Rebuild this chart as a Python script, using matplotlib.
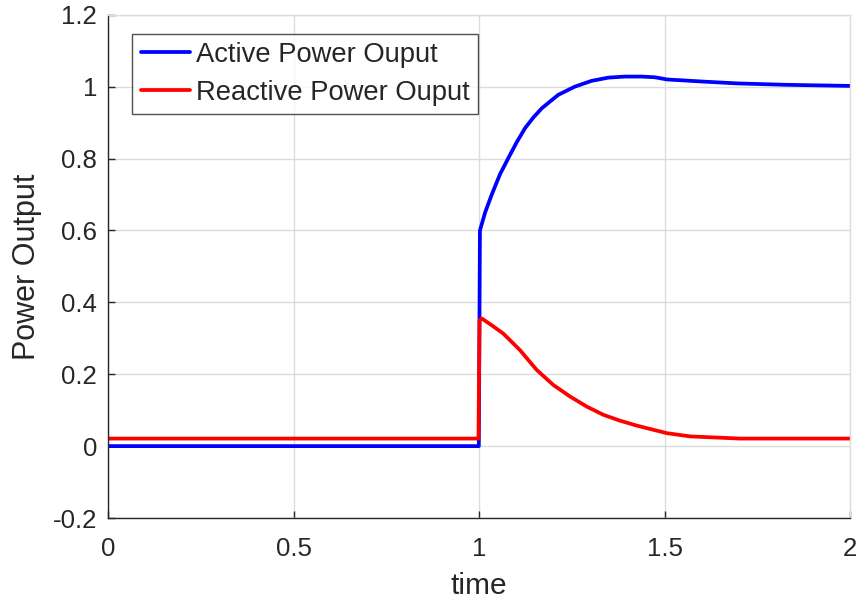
import matplotlib
matplotlib.use("Agg")
import matplotlib.pyplot as plt

t_active = [0, 0.999, 1.002, 1.016, 1.034, 1.056, 1.079, 1.101, 1.124, 1.146, 1.169, 1.213, 1.258,
            1.303, 1.348, 1.393, 1.438, 1.474, 1.506, 1.604, 1.695, 1.829, 2.0]
p_active = [0, 0, 0.600, 0.650, 0.700, 0.756, 0.802, 0.845, 0.885, 0.914, 0.940, 0.977, 1.000,
            1.016, 1.025, 1.028, 1.028, 1.026, 1.020, 1.014, 1.009, 1.005, 1.002]

t_reactive = [0, 0.998, 1.001, 1.007, 1.034, 1.065, 1.110, 1.155, 1.200, 1.245, 1.290, 1.335,
              1.379, 1.425, 1.506, 1.569, 1.703, 2.0]
p_reactive = [0.021, 0.021, 0.35, 0.355, 0.336, 0.313, 0.267, 0.212, 0.170, 0.138, 0.110, 0.087,
              0.071, 0.057, 0.036, 0.027, 0.021, 0.021]

x_ticks = [0, 0.5, 1, 1.5, 2]
x_tick_labels = ["0", "0.5", "1", "1.5", "2"]
y_ticks = [-0.2, 0, 0.2, 0.4, 0.6, 0.8, 1, 1.2]
y_tick_labels = ["-0.2", "0", "0.2", "0.4", "0.6", "0.8", "1", "1.2"]

plt.rcParams['font.family'] = ['Liberation Sans', 'DejaVu Sans']

fig = plt.figure(figsize=(8.6, 6.06), dpi=100)
ax = fig.add_axes([0.126, 0.1452, 0.8624, 0.8305])

ax.plot(t_active, p_active, color=(0, 0, 1), lw=2.7, label="Active Power Ouput",
        solid_joinstyle='round', solid_capstyle='round')
ax.plot(t_reactive, p_reactive, color=(1, 0, 0), lw=2.7, label="Reactive Power Ouput",
        solid_joinstyle='round', solid_capstyle='round')

ax.set_xlim(0, 2)
ax.set_ylim(-0.2, 1.2)
ax.set_xticks(x_ticks)
ax.set_xticklabels(x_tick_labels)
ax.set_yticks(y_ticks)
ax.set_yticklabels(y_tick_labels)

ax.grid(True, color='#dcdcdc', lw=1.0)
ax.set_axisbelow(True)
for s in ['left', 'bottom']:
    ax.spines[s].set_color('#262626')
    ax.spines[s].set_linewidth(1.0)
for s in ['top', 'right']:
    ax.spines[s].set_color('#dcdcdc')
    ax.spines[s].set_linewidth(1.0)

ax.tick_params(axis='both', direction='in', length=5, width=1, colors='#262626',
               labelsize=18.6, labelcolor='#262626', pad=8)
ax.tick_params(axis='x', pad=13.5)
ax.tick_params(top=False, right=False)

ax.set_xlabel("time", fontsize=21.5, color='#262626', labelpad=8)
ax.set_ylabel("Power Output", fontsize=22, color='#262626', labelpad=8)

leg = ax.legend(loc='upper left', bbox_to_anchor=(0.0325, 0.962), fontsize=19.7,
                frameon=True, fancybox=False, handlelength=1.8, handletextpad=0.22,
                borderpad=0.3, labelspacing=0.42, borderaxespad=0)
leg.get_frame().set_edgecolor('#262626')
leg.get_frame().set_linewidth(1.0)
for txt in leg.get_texts():
    txt.set_color('#262626')

fig.savefig("out.png", dpi=100)
